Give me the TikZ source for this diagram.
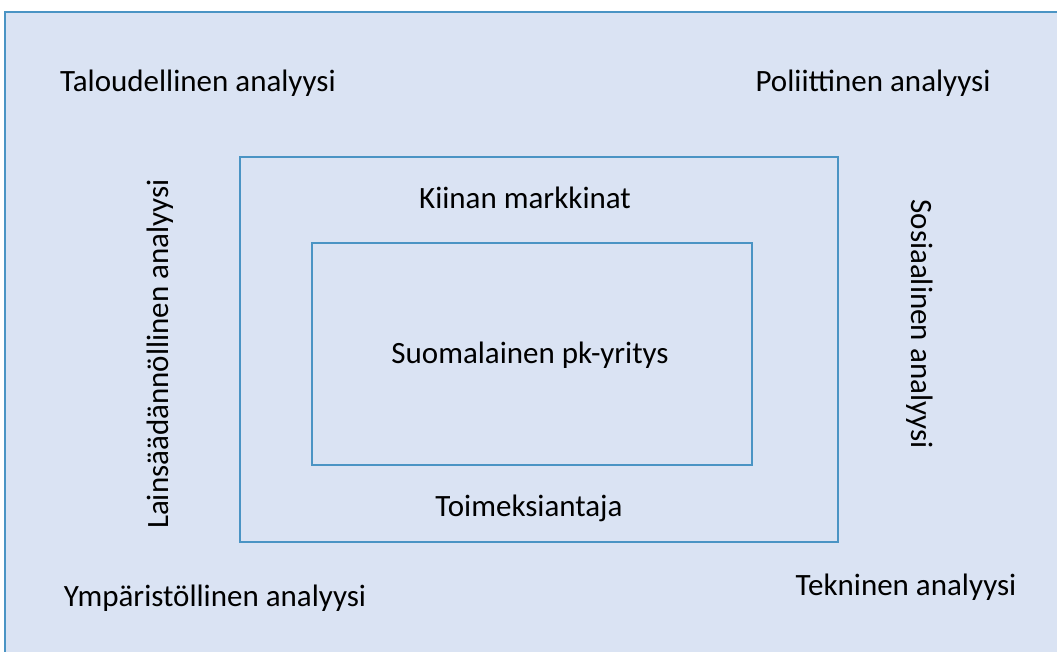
\documentclass[tikz,border=0pt]{standalone}
\usepackage{fontspec}
\setmainfont{Carlito}
\begin{document}
\begin{tikzpicture}[x=1pt, y=-1pt]
    % Define colours
    \definecolor{borderColour}{HTML}{4A94C4}
    \definecolor{fillColour}{HTML}{DAE3F3}

    % Define text style
    \tikzset{label/.style={font=\fontsize{31}{36}\selectfont, inner sep=0pt}}

    % Fix picture size
    \useasboundingbox (0,0) rectangle (1057,652);
    \clip (0,0) rectangle (1057,652);

    % Draw outer box
    \filldraw[fill=fillColour, draw=borderColour, line width=1.6pt] (5,12) rectangle (1070,670);

    % Draw market box and company box
    \draw[borderColour, line width=1.6pt] (240,157) rectangle (838,542);
    \draw[borderColour, line width=1.6pt] (312,243) rectangle (752,465);

    % Label the analyses
    \node[label] (econ) at (198,83) {Taloudellinen analyysi};
    \node[label] (poli) at (873,83) {Poliittinen analyysi};
    \node[label] (envi) at (215,598) {Ympäristöllinen analyysi};
    \node[label] (tech) at (906,587) {Tekninen analyysi};
    \node[label, rotate=90] (legal) at (160,354) {Lainsäädännöllinen analyysi};
    \node[label, rotate=-90] (soc) at (920,324) {Sosiaalinen analyysi};

    % Label the boxes
    \node[label] (market) at (525,198) {Kiinan markkinat};
    \node[label] (firm) at (530,355) {Suomalainen pk-yritys};
    \node[label] (client) at (529,508) {Toimeksiantaja};

\end{tikzpicture}
\end{document}
